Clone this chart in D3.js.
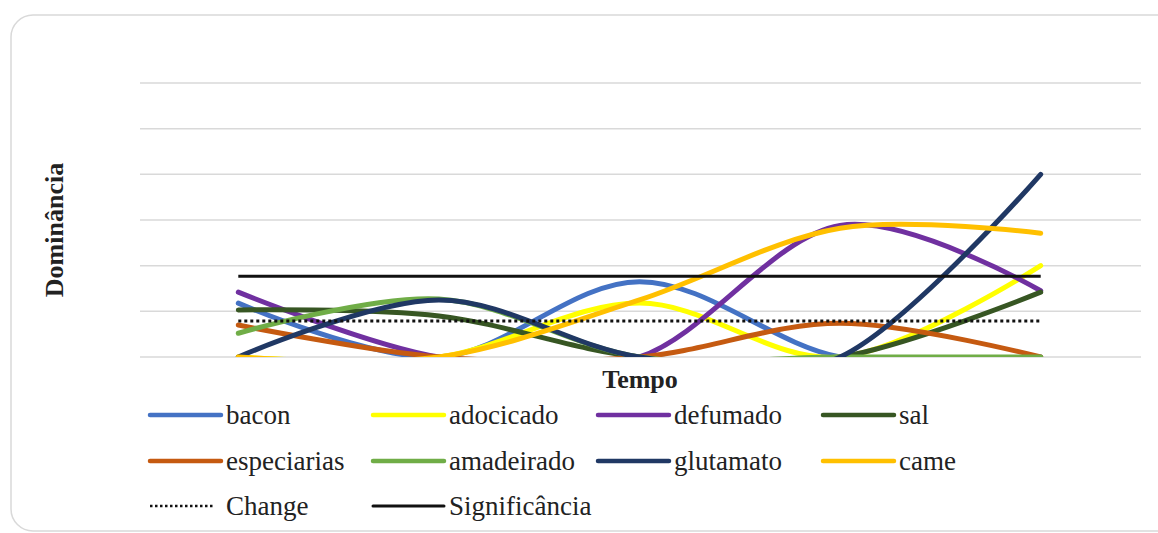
<!DOCTYPE html>
<html>
<head>
<meta charset="utf-8">
<script src="https://cdn.jsdelivr.net/npm/d3@7"></script>
<style>
  html, body { margin: 0; padding: 0; background: #fff; }
  svg { display: block; }
</style>
</head>
<body>
<svg id="chart" width="1158" height="533"></svg>
<script>
// Time points (unlabelled on the axis)
const categories = ["t1", "t2", "t3", "t4", "t5"];

// Dominance values per attribute
const bacon       = [1.18, 0.00, 1.65, 0.00, 0.00];
const adocicado   = [0.00, 0.00, 1.18, 0.00, 2.00];
const defumado    = [1.42, 0.00, 0.00, 2.88, 1.45];
const sal         = [1.03, 0.90, 0.00, 0.00, 1.42];
const especiarias = [0.70, 0.00, 0.00, 0.74, 0.00];
const amadeirado  = [0.52, 1.27, 0.00, 0.00, 0.00];
const glutamato   = [0.00, 1.25, 0.00, 0.00, 4.00];
const carne       = [0.00, 0.00, 1.25, 2.82, 2.71];

// Reference levels
const changeLevel = 0.79;
const significanceLevel = 1.77;

const yTicks = [0, 1, 2, 3, 4, 5, 6];

const seriesNames  = ["bacon", "adocicado", "defumado", "sal", "especiarias", "amadeirado", "glutamato", "came"];
const seriesValues = [bacon, adocicado, defumado, sal, especiarias, amadeirado, glutamato, carne];
const seriesColors = ["#4472C4", "#FFFF00", "#7030A0", "#375623", "#C55A11", "#70AD47", "#203864", "#FFC000"];

const FONT = "'Liberation Serif', 'Times New Roman', 'DejaVu Serif', serif";

const svg = d3.select("#chart");

// card frame
svg.append("rect")
  .attr("x", 11).attr("y", 15)
  .attr("width", 1170).attr("height", 516)
  .attr("rx", 22).attr("ry", 22)
  .attr("fill", "#fff")
  .attr("stroke", "#d9d9d9")
  .attr("stroke-width", 1.5);

const plot = { left: 138, right: 1141, top: 83, bottom: 357 };

const x = d3.scalePoint().domain(categories).range([plot.left, plot.right]).padding(0.5);
const y = d3.scaleLinear().domain([0, 6]).range([plot.bottom, plot.top]);

// horizontal gridlines
svg.append("g")
  .selectAll("line")
  .data(yTicks)
  .join("line")
  .attr("x1", 140).attr("x2", plot.right)
  .attr("y1", d => y(d)).attr("y2", d => y(d))
  .attr("stroke", "#d9d9d9")
  .attr("stroke-width", 1.5);

svg.append("defs").append("clipPath").attr("id", "plotClip")
  .append("rect")
  .attr("x", plot.left).attr("y", plot.top - 5)
  .attr("width", plot.right - plot.left).attr("height", plot.bottom - plot.top + 5);

const line = d3.line()
  .x((d, i) => x(categories[i]))
  .y(d => y(d))
  .curve(d3.curveCardinal.tension(0));

const series = svg.append("g").attr("clip-path", "url(#plotClip)");
seriesValues.forEach((vals, k) => {
  series.append("path")
    .datum(vals)
    .attr("d", line)
    .attr("fill", "none")
    .attr("stroke", seriesColors[k])
    .attr("stroke-width", 5)
    .attr("stroke-linecap", "round");
});

// Change (dotted) and Significância (solid) reference lines
const flat = v => categories.map(() => v);
const straight = d3.line().x((d, i) => x(categories[i])).y(d => y(d));

svg.append("path")
  .datum(flat(changeLevel))
  .attr("d", straight)
  .attr("fill", "none")
  .attr("stroke", "#111")
  .attr("stroke-width", 3)
  .attr("stroke-dasharray", "3,3");

svg.append("path")
  .datum(flat(significanceLevel))
  .attr("d", straight)
  .attr("fill", "none")
  .attr("stroke", "#111")
  .attr("stroke-width", 3);

// axis titles
svg.append("text")
  .attr("x", 640).attr("y", 388)
  .attr("text-anchor", "middle")
  .attr("font-family", FONT)
  .attr("font-size", 26)
  .attr("font-weight", "bold")
  .attr("fill", "#222")
  .text("Tempo");

svg.append("text")
  .attr("transform", "translate(63,230) rotate(-90)")
  .attr("text-anchor", "middle")
  .attr("font-family", FONT)
  .attr("font-size", 26)
  .attr("font-weight", "bold")
  .attr("fill", "#222")
  .text("Dominância");

// legend
const colX = [150, 373, 598, 823];
const rowY = [415, 461, 506];
const legendItems = seriesNames.map((n, k) => ({ name: n, color: seriesColors[k], dash: null, width: 4.5 }));
legendItems.push({ name: "Change", color: "#111", dash: "2.5,2.5", width: 2.5, sampleLen: 65 });
legendItems.push({ name: "Significância", color: "#111", dash: null, width: 3 });

const legend = svg.append("g");
legendItems.forEach((it, i) => {
  const cx = colX[i % 4];
  const cy = rowY[Math.floor(i / 4)];
  const len = it.sampleLen || 71;
  legend.append("line")
    .attr("x1", cx).attr("x2", cx + len)
    .attr("y1", cy).attr("y2", cy)
    .attr("stroke", it.color)
    .attr("stroke-width", it.width)
    .attr("stroke-linecap", it.dash ? "butt" : "round")
    .attr("stroke-dasharray", it.dash);
  legend.append("text")
    .attr("x", cx + 76).attr("y", cy + 9)
    .attr("font-family", FONT)
    .attr("font-size", 27)
    .attr("fill", "#222")
    .text(it.name);
});
</script>
</body>
</html>
